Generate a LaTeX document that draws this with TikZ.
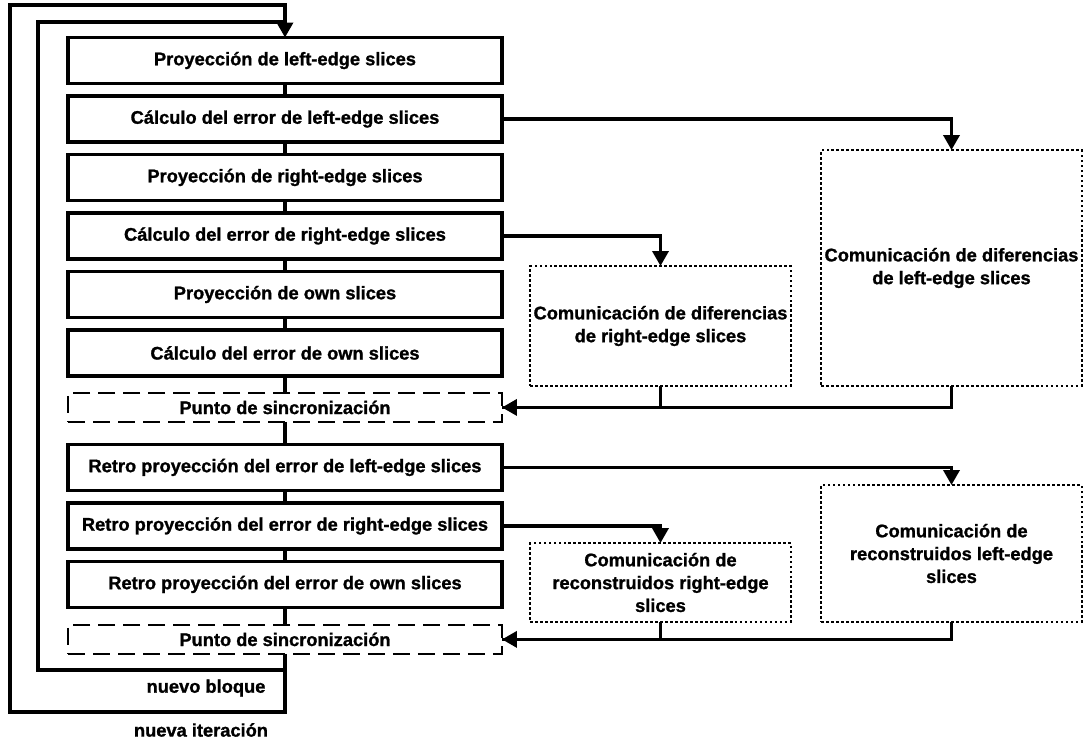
\documentclass[tikz,border=0pt]{standalone}
\usepackage{fontspec}
\setmainfont{Liberation Sans}[BoldFeatures={FakeBold=1.2}]
\usetikzlibrary{arrows.meta, positioning}

\begin{document}
\begin{tikzpicture}[x=0.02cm, y=-0.02cm,
		base/.style = {outer sep=0pt, align=center, font=\fontsize{10.4}{13}\selectfont\bfseries},
		paso/.style = {rectangle, base, draw, line width=0.07cm, minimum width=8.68cm, minimum height=0.92cm},
		sinc/.style = {rectangle, base, draw, line width=0.05cm, dash pattern=on 0.34cm off 0.16cm, minimum width=8.68cm, minimum height=0.58cm},
		comu/.style = {rectangle, base, draw, inner sep=1pt, line width=0.05cm, dash pattern=on 0.05cm off 0.05cm, minimum width=5.22cm},
		linea/.style = {line width=0.07cm},
		flecha/.style = {linea, -{Triangle[length=0.3cm, width=0.32cm]}}
		]
		\useasboundingbox (0,0) rectangle (1086,745);
		
		\node (p1) [paso] at (285,60.5) {Proyección de left-edge slices};
		\node (p2) [paso, below=0.25cm of p1] {Cálculo del error de left-edge slices};
		\node (p3) [paso, below=0.25cm of p2] {Proyección de right-edge slices};
		\node (p4) [paso, below=0.25cm of p3] {Cálculo del error de right-edge slices};
		\node (p5) [paso, below=0.25cm of p4] {Proyección de own slices};
		\node (p6) [paso, below=0.25cm of p5] {Cálculo del error de own slices};
		\node (s1) [sinc, below=0.34cm of p6] {Punto de sincronización};
		\node (r1) [paso, below=0.45cm of s1] {Retro proyección del error de left-edge slices};
		\node (r2) [paso, below=0.25cm of r1] {Retro proyección del error de right-edge slices};
		\node (r3) [paso, below=0.25cm of r2] {Retro proyección del error de own slices};
		\node (s2) [sinc, below=0.35cm of r3] {Punto de sincronización};
		
		\node (cd1) [comu, minimum height=4.72cm] at (951.5,268) {Comunicación de diferencias\\de left-edge slices};
		\node (cd2) [comu, minimum height=2.4cm] at (660.5,326) {Comunicación de diferencias\\de right-edge slices};
		\node (cr1) [comu, minimum height=2.74cm] at (951.5,553.5) {Comunicación de\\reconstruidos left-edge\\slices};
		\node (cr2) [comu, minimum height=1.58cm] at (660.5,582.5) {Comunicación de\\reconstruidos right-edge\\slices};
		
		\node (nbloq) [base] at (206,688) {nuevo bloque};
		\node (niter) [base] at (201,730) {nueva iteración};
		
		\coordinate (finiter) at (285,712);
		\coordinate (iniiter) at (10,5);
		\coordinate (finbloq) at (285,670);
		\coordinate (inibloq) at (38,22);
		\coordinate (unionbloq) at (285,22);
		
		\draw[linea] (p1) -- (p2);
		\draw[linea] (p2) -- (p3);
		\draw[linea] (p3) -- (p4);
		\draw[linea] (p4) -- (p5);
		\draw[linea] (p5) -- (p6);
		\draw[linea] (p6) -- (s1);
		\draw[linea] (s1) -- (r1);
		\draw[linea] (r1) -- (r2);
		\draw[linea] (r2) -- (r3);
		\draw[linea] (r3) -- (s2);
		
		\draw[flecha] (p2.east) -| (cd1.north);
		\draw[flecha] (p4.east) -| (cd2.north);
		\draw[linea] (cd2.south) |- (s1.east);
		\draw[flecha] (cd1.south) |- (s1.east);
		\draw[flecha] (r1.east) -| (cr1.north);
		\draw[flecha] (r2.east) -| (cr2.north);
		\draw[linea] (cr2.south) |- (s2.east);
		\draw[flecha] (cr1.south) |- (s2.east);
		
		\draw[flecha] (s2) -- (finiter) -| (iniiter) -| (p1.north);
		\draw[linea] (finbloq) -| (inibloq) -- (unionbloq);
	\end{tikzpicture}
\end{document}
